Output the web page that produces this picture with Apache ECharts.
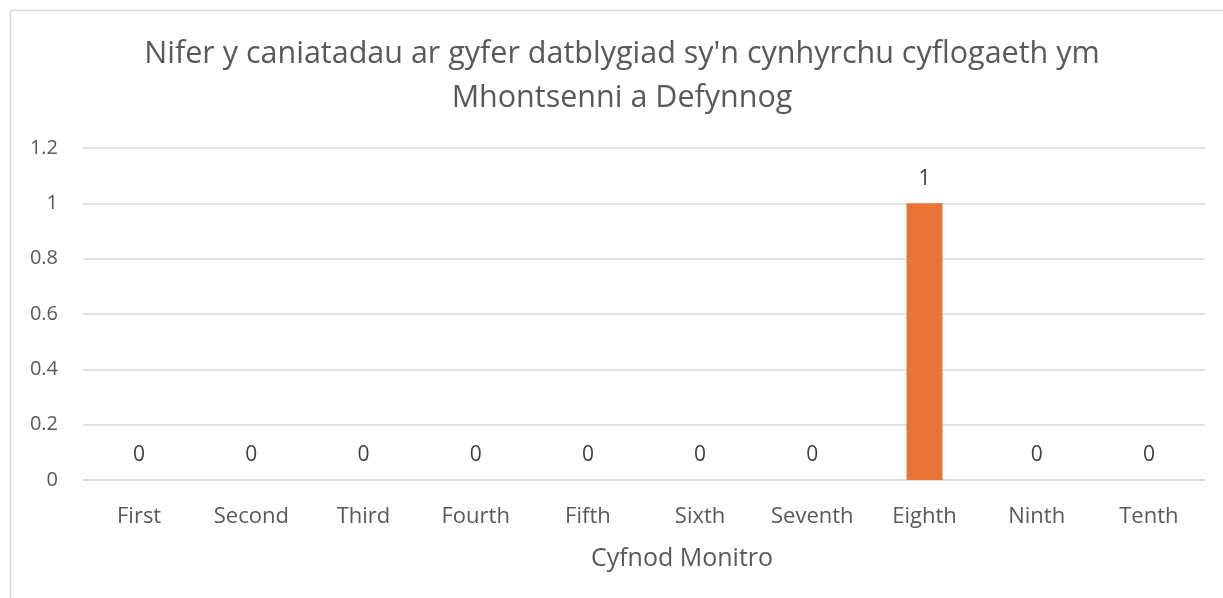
<!DOCTYPE html>
<html>
<head>
<meta charset="utf-8">
<script src="https://cdn.jsdelivr.net/npm/echarts@6/dist/echarts.min.js"></script>
<style>
html, body { margin: 0; padding: 0; background: #fff; }
#chart { width: 1223px; height: 598px; }
</style>
</head>
<body>
<div id="chart"></div>
<script>
var categories = ['First', 'Second', 'Third', 'Fourth', 'Fifth', 'Sixth', 'Seventh', 'Eighth', 'Ninth', 'Tenth'];
var values = [0, 0, 0, 0, 0, 0, 0, 1, 0, 0];
var titleText = "Nifer y caniatadau ar gyfer datblygiad sy'n cynhyrchu cyflogaeth ym\nMhontsenni a Defynnog";
var xName = 'Cyfnod Monitro';

var font = '"Open Sans", "Noto Sans", sans-serif';
var textColor = '#595959';

var myChart = echarts.init(document.getElementById('chart'));
var option = {
    animation: false,
    graphic: [{
        type: 'rect',
        shape: { x: 10.5, y: 10.5, width: 1300, height: 700 },
        style: { fill: 'none', stroke: '#d9d9d9', lineWidth: 1.5 },
        silent: true
    }],
    title: {
        text: titleText,
        // centred on the chart frame, which is offset right of the page
        left: 617,
        textAlign: 'center',
        top: 27,
        textStyle: {
            color: textColor,
            fontFamily: font,
            fontWeight: 'normal',
            fontSize: 30.5,
            lineHeight: 44
        }
    },
    grid: {
        left: 83,
        right: 18,
        top: 148,
        bottom: 118
    },
    xAxis: {
        type: 'category',
        data: categories,
        name: xName,
        nameLocation: 'middle',
        nameGap: 66,
        // Excel places the axis title a bit right of the plot centre
        nameTextStyle: { color: textColor, fontFamily: font, fontSize: 25, padding: [0, 0, 0, 76] },
        axisLine: { lineStyle: { color: '#d9d9d9', width: 1.5 } },
        axisTick: { show: false },
        axisLabel: { color: textColor, fontFamily: font, fontSize: 22, margin: 26 }
    },
    yAxis: {
        type: 'value',
        min: 0,
        max: 1.2,
        interval: 0.2,
        axisLine: { show: false },
        axisTick: { show: false },
        axisLabel: {
            color: textColor, fontFamily: font, fontSize: 20, margin: 25,
            formatter: function (v) { return String(Math.round(v * 10) / 10); }
        },
        splitLine: { lineStyle: { color: '#d9d9d9', width: 1.5 } }
    },
    series: [{
        type: 'bar',
        data: values,
        barWidth: 36,
        itemStyle: { color: '#ea7433' },
        label: {
            show: true,
            position: 'top',
            distance: 14,
            color: '#404040',
            fontFamily: font,
            fontSize: 21
        }
    }]
};
myChart.setOption(option);
</script>
</body>
</html>
